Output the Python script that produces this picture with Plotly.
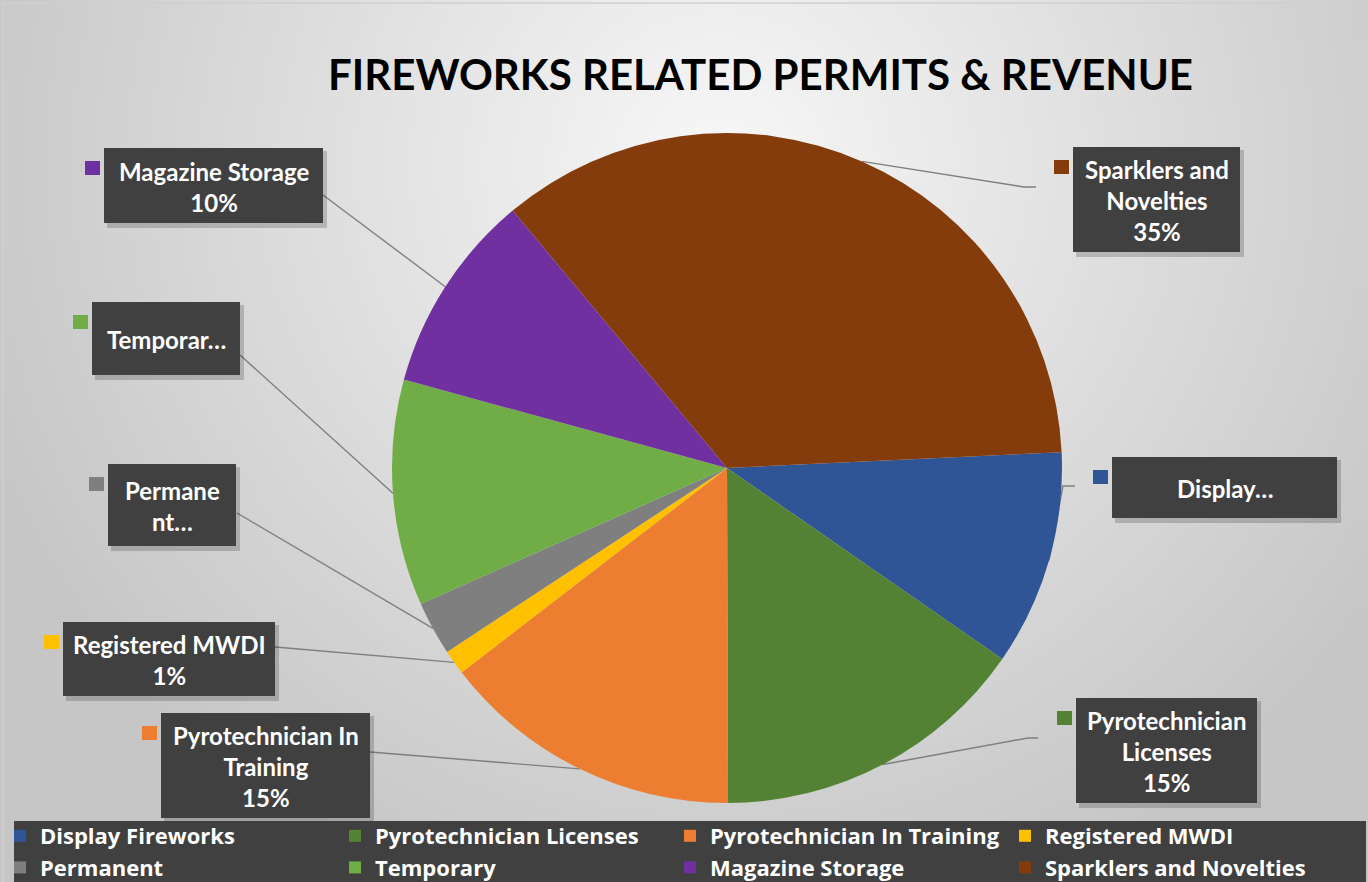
import base64, zlib, struct
import numpy as np
import plotly.graph_objects as go

W, H = 1368, 882

# ---------------- data ----------------
categories = ["Display Fireworks", "Pyrotechnician Licenses", "Pyrotechnician In Training",
              "Registered MWDI", "Permanent", "Temporary", "Magazine Storage",
              "Sparklers and Novelties"]
values = [10.4, 15.3, 14.6, 1.2, 2.6, 10.9, 9.7, 35.3]
colors = ["#2F5597", "#548235", "#ED7D31", "#FFC000", "#7F7F7F", "#70AD47", "#7030A0", "#843C0C"]
label_names = ["Display…", "Pyrotechnician<br>Licenses", "Pyrotechnician In<br>Training",
               "Registered MWDI", "Permane<br>nt…", "Temporar…", "Magazine Storage",
               "Sparklers and<br>Novelties"]
show_pct = [False, True, True, True, False, False, True, True]
title_text = "FIREWORKS RELATED PERMITS & REVENUE"

# ---------------- layout constants (pixels) ----------------
CX, CY, R = 727, 468, 335          # pie centre / radius
ROT = 87.3                          # start angle of first slice (deg clockwise from 12 o'clock)
# label boxes: x0, y0, x1, y1
boxes = [(1112, 457, 1337, 518), (1076, 698, 1257, 803), (161, 713, 370, 818),
         (63, 622, 275, 696), (108, 464, 236, 546), (92, 302, 240, 375),
         (104, 148, 323, 223), (1073, 147, 1240, 252)]
# leader line end points (box side) and optional horizontal stub
leader_end = [(1063, 486), (1028, 738), (370, 752), (275, 647), (237, 513),
              (240, 355), (323, 195), (1024, 187)]
stub = [12, 10, 0, 0, 0, 0, 0, 12]


def px(x):
    return x / W


def py(y):
    return 1 - y / H


# ---------------- background gradient image ----------------
def png_data_uri(arr):
    h, w = arr.shape
    raw = b"".join(b"\x00" + bytes(arr[i].astype(np.uint8)) for i in range(h))

    def chunk(t, d):
        c = struct.pack(">I", len(d)) + t + d
        return c + struct.pack(">I", zlib.crc32(t + d) & 0xffffffff)
    png = b"\x89PNG\r\n\x1a\n" + chunk(b"IHDR", struct.pack(">IIBBBBB", w, h, 8, 0, 0, 0, 0)) \
        + chunk(b"IDAT", zlib.compress(raw, 9)) + chunk(b"IEND", b"")
    return "data:image/png;base64," + base64.b64encode(png).decode()


gw, gh = 172, 111
gx, gy = np.meshgrid(np.linspace(0, W, gw), np.linspace(0, H, gh))
dist = np.sqrt((gx - 720) ** 2 + (gy - 160) ** 2)
grad = np.clip(248 - 0.062 * dist, 198, 248)
bg_uri = png_data_uri(grad)

# ---------------- figure ----------------
fig = go.Figure()
fig.add_trace(go.Pie(
    labels=categories, values=values, sort=False, direction="clockwise", rotation=ROT,
    marker=dict(colors=colors, line=dict(width=0)), textinfo="none", hoverinfo="label+percent",
    domain=dict(x=[px(CX - R), px(CX + R)], y=[py(CY + R), py(CY - R)]),
    showlegend=True,
))

shapes = []
annotations = []
total = sum(values)
cum = 0.0
for i, v in enumerate(values):
    theta = np.deg2rad(ROT + 360 * (cum + v / 2) / total)
    cum += v
    ex, ey = CX + R * np.sin(theta), CY - R * np.cos(theta)
    lx, ly = leader_end[i]
    side = 1 if lx > CX else -1
    pts = [(ex, ey), (lx, ly)]
    if stub[i]:
        pts.append((lx + side * stub[i], ly))
    path = "M " + " L ".join(f"{px(a):.5f},{py(b):.5f}" for a, b in pts)
    shapes.append(dict(type="path", path=path, xref="paper", yref="paper",
                       line=dict(color="#7F7F7F", width=1.4), layer="below"))
    x0, y0, x1, y1 = boxes[i]
    # shadow
    shapes.append(dict(type="rect", xref="paper", yref="paper", x0=px(x0 + 3), x1=px(x1 + 4),
                       y0=py(y1 + 5), y1=py(y0 + 3), fillcolor="rgba(0,0,0,0.18)",
                       line=dict(width=0), layer="above"))
    shapes.append(dict(type="rect", xref="paper", yref="paper", x0=px(x0), x1=px(x1),
                       y0=py(y1), y1=py(y0), fillcolor="#404040", line=dict(width=0),
                       layer="above"))
    # key square
    kx, ky = x0 - 19, y0 + 13
    shapes.append(dict(type="rect", xref="paper", yref="paper", x0=px(kx), x1=px(kx + 15),
                       y0=py(ky + 14), y1=py(ky), fillcolor=colors[i], line=dict(width=0),
                       layer="above"))
    txt = label_names[i]
    if show_pct[i]:
        txt += f"<br>{round(100 * v / total):.0f}%"
    annotations.append(dict(text=txt, x=px((x0 + x1) / 2), y=py((y0 + y1) / 2 + 1),
                            xref="paper", yref="paper", showarrow=False,
                            xanchor="center", yanchor="middle", align="center",
                            font=dict(family="Lato", size=24, color="white", weight="bold")))

# legend band
shapes.append(dict(type="rect", xref="paper", yref="paper", x0=px(14), x1=px(1366),
                   y0=-0.01, y1=py(821), fillcolor="#404040", line=dict(width=0), layer="above"))
# thin chart border
shapes.append(dict(type="path", xref="paper", yref="paper",
                   path=f"M {px(3)},{py(884)} L {px(3)},{py(3)} L {px(1370)},{py(3)}",
                   line=dict(color="#D0D0D0", width=1.5), layer="above"))

annotations.append(dict(text=title_text, x=px(760), y=py(74), xref="paper", yref="paper",
                        showarrow=False, xanchor="center", yanchor="middle",
                        font=dict(family="Lato", size=42, color="black", weight="bold")))

fig.update_layout(
    width=W, height=H, margin=dict(l=0, r=0, t=0, b=0, autoexpand=False),
    paper_bgcolor="#E0E0E0", plot_bgcolor="rgba(0,0,0,0)",
    images=[dict(source=bg_uri, xref="paper", yref="paper", x=0, y=1, sizex=1, sizey=1,
                 sizing="stretch", layer="below", xanchor="left", yanchor="top")],
    shapes=shapes, annotations=annotations,
    legend=dict(orientation="h", x=px(0), y=py(815), xanchor="left", yanchor="top",
                bgcolor="rgba(0,0,0,0)", entrywidth=290, entrywidthmode="pixels",
                font=dict(family="Open Sans", size=22, color="white", weight="bold"),
                traceorder="normal", itemclick=False, itemdoubleclick=False),
)

fig.write_html("out.html", config={"displayModeBar": False},
               post_script="document.body.style.margin='0';"
                           "document.documentElement.style.overflow='hidden';")
